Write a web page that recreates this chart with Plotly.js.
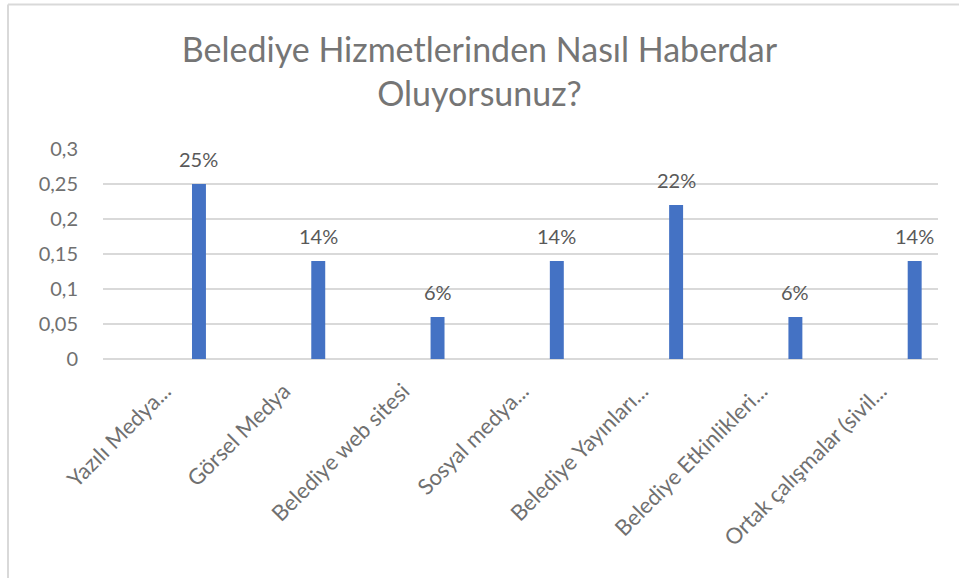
<!DOCTYPE html>
<html>
<head>
<meta charset="utf-8">
<script src="https://cdn.plot.ly/plotly-3.0.1.min.js"></script>
<style>html,body{margin:0;padding:0;background:#fff;}#chart{width:959px;height:578px;}</style>
</head>
<body>
<div id="chart"></div>
<script>
const categories = ["Yazılı Medya...", "Görsel Medya", "Belediye web sitesi", "Sosyal medya...", "Belediye Yayınları...", "Belediye Etkinlikleri...", "Ortak çalışmalar (sivil..."];
const values = [0.25, 0.14, 0.06, 0.14, 0.22, 0.06, 0.14];
const yTickVals = [0, 0.05, 0.1, 0.15, 0.2, 0.25, 0.3];
const yTickText = ["0", "0,05", "0,1", "0,15", "0,2", "0,25", "0,3"];
const titleText = "Belediye Hizmetlerinden Nasıl Haberdar<br>Oluyorsunuz?";

const FONT = "Lato, 'Open Sans', sans-serif";
const GRAY = "#707070";
const BAR_OFFSET = 0.246, BAR_WIDTH = 0.117;

const trace = {
  type: "bar",
  x: categories,
  y: values,
  offset: BAR_OFFSET,
  width: BAR_WIDTH,
  marker: {color: "#4472C4"},
  hoverinfo: "skip"
};

const annotations = values.map((v, i) => ({
  xref: "x", yref: "y",
  x: i + BAR_OFFSET + BAR_WIDTH / 2,
  y: v,
  text: Math.round(v * 100) + "%",
  showarrow: false,
  yanchor: "bottom",
  yshift: 11,
  font: {family: FONT, size: 20, color: "#595959"}
}));

const layout = {
  width: 959, height: 578,
  margin: {l: 103, r: 21, t: 149, b: 219},
  paper_bgcolor: "#fff", plot_bgcolor: "#fff",
  showlegend: false,
  title: {
    text: titleText,
    x: 0.5, xanchor: "center",
    y: 1 - 62 / 578, yanchor: "top", yref: "container",
    font: {family: FONT, size: 34, color: "#757575"}
  },
  xaxis: {
    type: "category",
    range: [-0.5, 6.5],
    tickangle: -45,
    showgrid: false,
    showline: false,
    ticks: "",
    tickfont: {family: FONT, size: 22, color: GRAY},
    ticklabelstandoff: 14,
    ticklabelshift: 2
  },
  yaxis: {
    range: [0, 0.3],
    tickvals: yTickVals,
    ticktext: yTickText,
    showgrid: true,
    gridcolor: "#d9d9d9",
    gridwidth: 1.5,
    zeroline: true,
    zerolinecolor: "#d9d9d9",
    zerolinewidth: 1.5,
    showline: false,
    ticks: "",
    tickfont: {family: FONT, size: 20, color: GRAY},
    ticklabelstandoff: 24
  },
  annotations: annotations,
  shapes: [
    {type: "line", xref: "paper", yref: "paper", x0: (8 - 103) / 835, x1: (8 - 103) / 835, y0: -2, y1: 1 + (149 - 4.5) / 210, line: {color: "#d9d9d9", width: 2}},
    {type: "line", xref: "paper", yref: "paper", x0: (8 - 103) / 835, x1: 2, y0: 1 + (149 - 4.5) / 210, y1: 1 + (149 - 4.5) / 210, line: {color: "#d9d9d9", width: 2}}
  ]
};

Plotly.newPlot("chart", [trace], layout, {displayModeBar: false, staticPlot: true});
</script>
</body>
</html>
